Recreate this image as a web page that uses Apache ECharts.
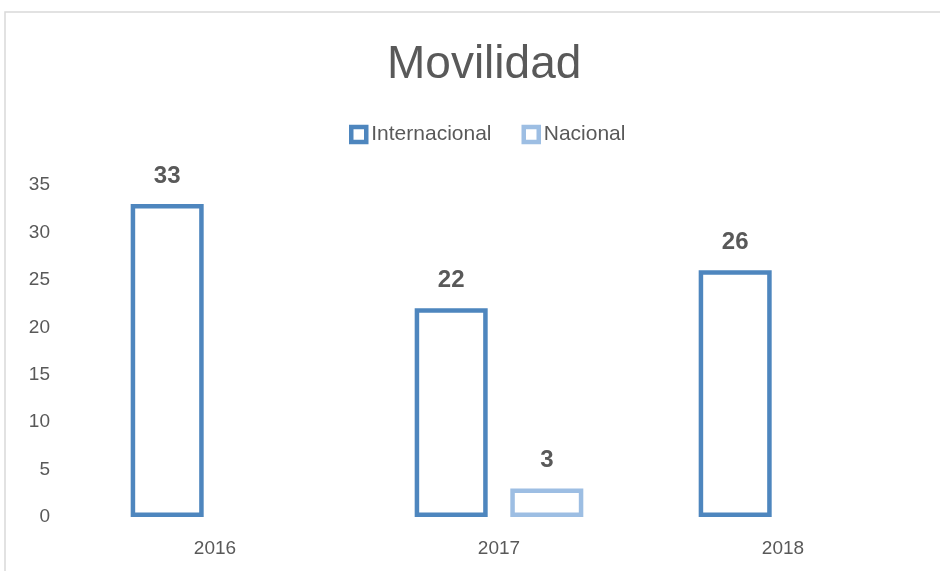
<!DOCTYPE html>
<html>
<head>
<meta charset="utf-8">
<script src="https://cdn.jsdelivr.net/npm/echarts@6/dist/echarts.min.js"></script>
<style>
  html, body { margin: 0; padding: 0; background: #fff; }
  #chart { width: 940px; height: 571px; }
</style>
</head>
<body>
<div id="chart"></div>
<script>
var years = ['2016', '2017', '2018'];
var internacional = [33, 22, 26];
var nacional = [null, 3, null];
var yTicks = [0, 35, 5]; // min, max, interval

var textColor = '#595959';
var font = 'Liberation Sans';

var chart = echarts.init(document.getElementById('chart'));
chart.setOption({
  backgroundColor: '#fff',
  animation: false,
  graphic: [{
    type: 'rect',
    shape: { x: 5, y: 12, width: 1000, height: 1000 },
    style: { fill: 'none', stroke: '#d9d9d9', lineWidth: 1.5 },
    silent: true
  }],
  title: {
    text: 'Movilidad',
    left: 382,
    top: 37,
    textStyle: { color: textColor, fontSize: 46, fontWeight: 'normal', fontFamily: font }
  },
  legend: {
    top: 119,
    left: 344,
    itemWidth: 15,
    itemHeight: 15,
    itemGap: 30,
    icon: 'rect',
    itemStyle: { borderWidth: 4.5 },
    textStyle: { color: textColor, fontSize: 21, fontFamily: font }
  },
  grid: { left: 73, right: 15, top: 185, bottom: 54 },
  xAxis: {
    type: 'category',
    data: years,
    axisLine: { show: false },
    axisTick: { show: false },
    axisLabel: { color: textColor, fontSize: 19, fontFamily: font, margin: 22 }
  },
  yAxis: {
    type: 'value',
    min: yTicks[0],
    max: yTicks[1],
    interval: yTicks[2],
    splitLine: { show: false },
    axisLine: { show: false },
    axisTick: { show: false },
    axisLabel: { color: textColor, fontSize: 19, fontFamily: font, margin: 23, align: 'right' }
  },
  series: [
    {
      name: 'Internacional',
      type: 'bar',
      data: internacional,
      barWidth: 73,
      barGap: '31%',
      itemStyle: { color: '#fff', borderColor: '#4E86BE', borderWidth: 4.5 },
      label: {
        show: true, position: 'top', distance: 16,
        color: textColor, fontSize: 24, fontWeight: 'bold', fontFamily: font
      }
    },
    {
      name: 'Nacional',
      type: 'bar',
      data: nacional,
      barWidth: 73,
      itemStyle: { color: '#fff', borderColor: '#9DBEE3', borderWidth: 4.5 },
      label: {
        show: true, position: 'top', distance: 16,
        color: textColor, fontSize: 24, fontWeight: 'bold', fontFamily: font
      }
    }
  ]
});
</script>
</body>
</html>
